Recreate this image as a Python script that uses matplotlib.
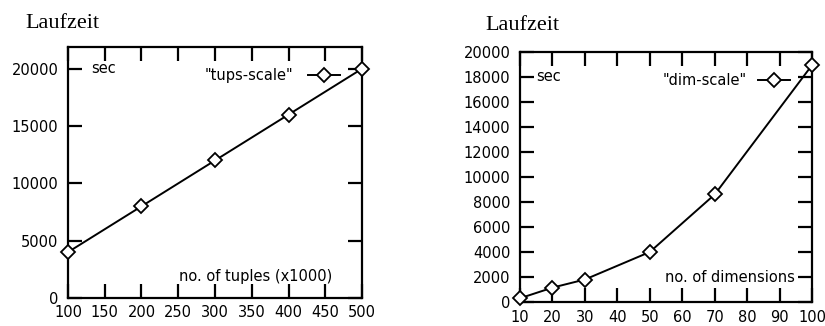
import matplotlib
matplotlib.use("Agg")
import matplotlib.pyplot as plt

# Laufzeit-Messungen, links nach Tupelanzahl, rechts nach Dimensionen
tups_x = [100, 200, 300, 400, 500]
tups_sec = [4000, 8000, 12000, 16000, 20000]
tups_xticks = [100, 150, 200, 250, 300, 350, 400, 450, 500]
tups_yticks = [0, 5000, 10000, 15000, 20000]

dim_x = [10, 20, 30, 50, 70, 100]
dim_sec = [300, 1150, 1800, 4000, 8600, 18950]
dim_xticks = [10, 20, 30, 40, 50, 60, 70, 80, 90, 100]
dim_yticks = [0, 2000, 4000, 6000, 8000, 10000, 12000, 14000, 16000, 18000, 20000]

plt.rcParams["font.family"] = ["DejaVu Sans"]
SERIF = ["Liberation Serif", "DejaVu Serif"]
FS = 10.5

fig = plt.figure(figsize=(8.25, 3.26), dpi=100)
ax1 = fig.add_axes([0.0824, 0.0859, 0.3564, 0.770])
ax2 = fig.add_axes([0.6303, 0.0736, 0.354, 0.767])


def style(ax, xpad, ypad):
    for s in ax.spines.values():
        s.set_linewidth(1.6)
    ax.tick_params(direction="in", length=10, width=1.6, top=True, right=True,
                   labelsize=FS, color="black")
    ax.tick_params(axis="x", pad=xpad)
    ax.tick_params(axis="y", pad=ypad)


def draw(ax, x, y, label):
    ax.plot(x, y, color="black", lw=1.4, marker="D", markersize=7,
            markerfacecolor="white", markeredgecolor="black", markeredgewidth=1.3,
            label=label, clip_on=False, zorder=3)


# links
draw(ax1, tups_x, tups_sec, '"tups-scale"')
ax1.set_xlim(100, 500)
ax1.set_ylim(0, 21900)
ax1.set_xticks(tups_xticks)
ax1.set_yticks(tups_yticks)
style(ax1, 5, 7)
ax1.text(0.08, 20000, "sec", transform=ax1.get_yaxis_transform(), fontsize=FS,
         va="center", ha="left")
ax1.text(0.898, 0.084, "no. of tuples (x1000)", transform=ax1.transAxes, fontsize=FS,
         va="center", ha="right")
ax1.legend(loc="center right", bbox_to_anchor=(0.925, 0.885), frameon=False,
           markerfirst=False, fontsize=FS, handlelength=2.2, handletextpad=1.0,
           borderpad=0, borderaxespad=0)
fig.text(25 / 825, 1 - 28 / 326, "Laufzeit", family=SERIF, fontsize=16, va="baseline")

# rechts
draw(ax2, dim_x, dim_sec, '"dim-scale"')
ax2.set_xlim(10, 100)
ax2.set_ylim(0, 20000)
ax2.set_xticks(dim_xticks)
ax2.set_yticks(dim_yticks)
style(ax2, 6, 7)
ax2.text(0.055, 18000, "sec", transform=ax2.get_yaxis_transform(), fontsize=FS,
         va="center", ha="left")
ax2.text(0.942, 2000, "no. of dimensions", transform=ax2.get_yaxis_transform(),
         fontsize=FS, va="center", ha="right")
ax2.legend(loc="center right", bbox_to_anchor=(0.925, 0.885), frameon=False,
           markerfirst=False, fontsize=FS, handlelength=2.2, handletextpad=0.8,
           borderpad=0, borderaxespad=0)
fig.text(485 / 825, 1 - 30 / 326, "Laufzeit", family=SERIF, fontsize=16, va="baseline")

fig.savefig("out.png", dpi=100)
